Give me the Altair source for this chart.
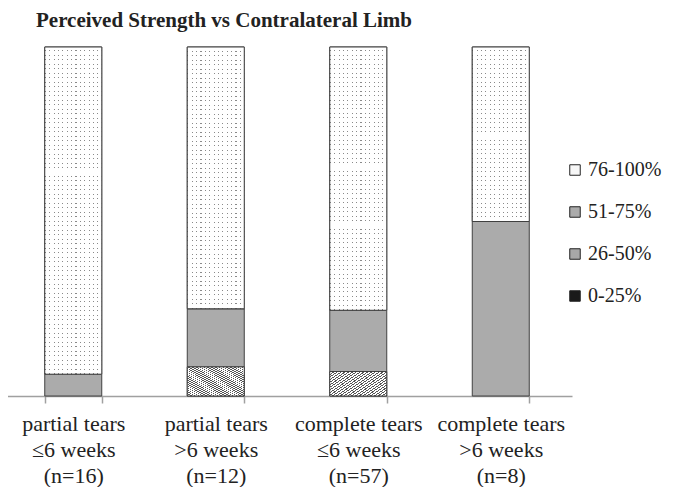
import altair as alt
import pandas as pd

categories = [
    "partial tears|≤6 weeks|(n=16)",
    "partial tears|>6 weeks|(n=12)",
    "complete tears|≤6 weeks|(n=57)",
    "complete tears|>6 weeks|(n=8)",
]
series = ["0-25%", "26-50%", "51-75%", "76-100%"]
counts = {
    "0-25%": [0, 0, 0, 0],
    "26-50%": [0, 1, 4, 0],
    "51-75%": [1, 2, 10, 4],
    "76-100%": [15, 9, 43, 4],
}
legend_order = ["76-100%", "51-75%", "26-50%", "0-25%"]
fill_colors = ["#f7f7f7", "#ababab", "#a8a8a8", "#1a1a1a"]

rows = []
for si, s in enumerate(series):
    for ci, c in enumerate(categories):
        rows.append({"category": c, "series": s, "count": counts[s][ci], "order": si})
df = pd.DataFrame(rows)

FONT = "'Times New Roman', 'Liberation Serif', Tinos, 'DejaVu Serif', serif"
PLOT_W, PLOT_H = 570, 349


def stripes(n, frac, on, off, x1, y1, x2, y2):
    st = []
    for i in range(n):
        a = i / n
        b = (i + frac) / n
        c = (i + 1) / n
        st += [
            alt.GradientStop(offset=a, color=on),
            alt.GradientStop(offset=b, color=on),
            alt.GradientStop(offset=b, color=off),
            alt.GradientStop(offset=c, color=off),
        ]
    return alt.LinearGradient(gradient="linear", stops=st, x1=x1, y1=y1, x2=x2, y2=y2)


hatch = stripes(30, 0.4, "#555555", "#ffffff", 0, 1, 1, 0)
dot_cols = stripes(13, 0.25, "#8a8a8a", "#ffffff", 0, 0, 1, 0)

base = alt.Chart(df).transform_stack(
    stack="count",
    groupby=["category"],
    as_=["y0", "y1"],
    offset="normalize",
    sort=[alt.SortField("order", order="ascending")],
).transform_filter(alt.datum.count > 0)

x_enc = alt.X(
    "category:N",
    sort=categories,
    scale=alt.Scale(paddingInner=0.6, paddingOuter=0.3),
    axis=alt.Axis(
        title=None,
        labelExpr="split(datum.label, '|')",
        labelFont=FONT,
        labelFontSize=22,
        labelColor="#222222",
        labelLineHeight=26,
        labelAngle=0,
        labelPadding=10,
        labelBaseline="top",
        tickBand="extent",
        tickSize=7,
        tickColor="#a0a0a0",
        tickWidth=1.5,
        domainColor="#a0a0a0",
        domainWidth=1.5,
    ),
)
x_plain = alt.X("category:N", sort=categories)
y_enc = alt.Y("y0:Q", scale=alt.Scale(domain=[0, 1]), axis=None)

bars = base.mark_bar(stroke="#404040", strokeWidth=1).encode(
    x=x_enc,
    y=y_enc,
    y2="y1:Q",
    color=alt.Color(
        "series:N",
        scale=alt.Scale(domain=legend_order, range=fill_colors),
        legend=alt.Legend(
            title=None,
            orient="none",
            legendX=563,
            legendY=113,
            symbolType="square",
            symbolSize=110,
            symbolStrokeColor="#222222",
            symbolStrokeWidth=1,
            labelFont=FONT,
            labelFontSize=20,
            labelColor="#222222",
            rowPadding=22,
            labelOffset=3,
            labelLimit=200,
        ),
    ),
)

hatch_layer = base.transform_filter(alt.datum.series == "26-50%").mark_bar(
    fill=hatch, stroke="#404040", strokeWidth=1
).encode(x=x_plain, y=y_enc, y2="y1:Q")

top_series = "76-100%"
dot_col_layer = base.transform_filter(alt.datum.series == top_series).mark_bar(
    fill=dot_cols
).encode(x=x_plain, y=y_enc, y2="y1:Q")

layers = [bars, hatch_layer, dot_col_layer]
for ci, c in enumerate(categories):
    tot = sum(counts[s][ci] for s in series)
    frac = counts[top_series][ci] / tot
    nrows = max(1, round(frac * PLOT_H / 4.5))
    bands = stripes(nrows, 0.78, "#ffffff", "rgba(255,255,255,0)", 0, 0, 0, 1)
    layers.append(
        base.transform_filter(
            (alt.datum.series == top_series) & (alt.datum.category == c)
        )
        .mark_bar(fill=bands, stroke="#404040", strokeWidth=1)
        .encode(x=x_plain, y=y_enc, y2="y1:Q")
    )

chart = (
    alt.layer(*layers)
    .properties(
        width=PLOT_W,
        height=PLOT_H,
        autosize=alt.AutoSizeParams(type="none"),
        padding={"left": -6, "top": 39, "right": 94, "bottom": 91},
        title=alt.TitleParams(
            text="Perceived Strength vs Contralateral Limb",
            font=FONT,
            fontSize=21,
            fontWeight="bold",
            color="#222222",
            anchor="middle",
            dx=-63,
            offset=16,
        ),
    )
    .configure(font=FONT)
    .configure_view(stroke=None)
)

chart.save("out.html", embed_options={"renderer": "svg", "actions": False})
